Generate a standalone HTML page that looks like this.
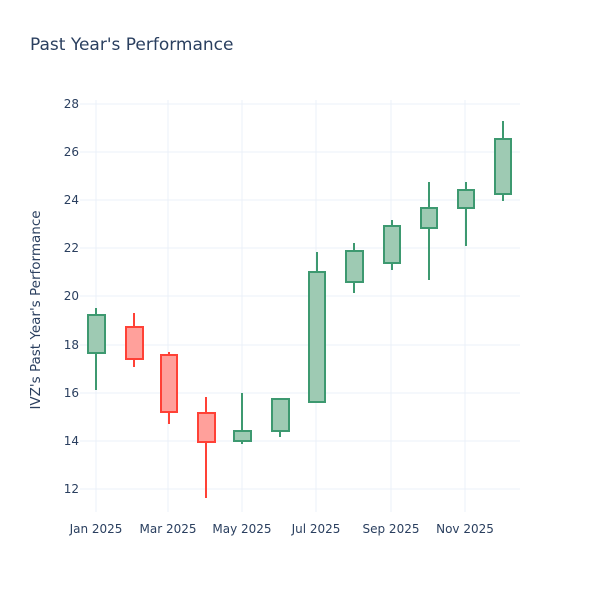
<!DOCTYPE html>
<html><head><meta charset="utf-8"><style>
body{margin:0;background:#fff;}
text{font-family:"DejaVu Sans","Liberation Sans",sans-serif;fill:#2a3f5f;}
</style></head><body>
<svg width="600" height="600" xmlns="http://www.w3.org/2000/svg">
<rect width="600" height="600" fill="#fff"/>
<g stroke="#ebf0f8" stroke-width="1">
<line x1="80" x2="520" y1="104" y2="104"/>
<line x1="80" x2="520" y1="152" y2="152"/>
<line x1="80" x2="520" y1="200" y2="200"/>
<line x1="80" x2="520" y1="248" y2="248"/>
<line x1="80" x2="520" y1="296" y2="296"/>
<line x1="80" x2="520" y1="345" y2="345"/>
<line x1="80" x2="520" y1="393" y2="393"/>
<line x1="80" x2="520" y1="441" y2="441"/>
<line x1="80" x2="520" y1="489" y2="489"/>
<line x1="96" x2="96" y1="100" y2="512"/>
<line x1="168" x2="168" y1="100" y2="512"/>
<line x1="242" x2="242" y1="100" y2="512"/>
<line x1="316" x2="316" y1="100" y2="512"/>
<line x1="391" x2="391" y1="100" y2="512"/>
<line x1="465" x2="465" y1="100" y2="512"/>
</g>
<g font-size="12" text-anchor="end">
<text x="79" y="108">28</text><text x="79" y="156">26</text><text x="79" y="204">24</text>
<text x="79" y="252">22</text><text x="79" y="300">20</text><text x="79" y="349">18</text>
<text x="79" y="397">16</text><text x="79" y="445">14</text><text x="79" y="493">12</text>
</g>
<g font-size="12" text-anchor="middle">
<text x="96" y="533">Jan 2025</text><text x="168" y="533">Mar 2025</text><text x="242" y="533">May 2025</text>
<text x="316" y="533">Jul 2025</text><text x="391" y="533">Sep 2025</text><text x="465" y="533">Nov 2025</text>
</g>
<text x="30" y="50" font-size="17">Past Year's Performance</text>
<text transform="translate(40,310) rotate(-90)" font-size="13.5" text-anchor="middle">IVZ's Past Year's Performance</text>
<g stroke-width="2">
<g stroke="#3d9970" fill="#9ecab3">
<line x1="96" x2="96" y1="308" y2="390"/><rect x="88" y="315" width="17" height="38"/>
<line x1="242" x2="242" y1="393" y2="444"/><rect x="234" y="431" width="17" height="10"/>
<line x1="280" x2="280" y1="399" y2="437"/><rect x="272" y="399" width="17" height="32"/>
<line x1="317" x2="317" y1="252" y2="402"/><rect x="309" y="272" width="16" height="130"/>
<line x1="354" x2="354" y1="243" y2="293"/><rect x="346" y="251" width="17" height="31"/>
<line x1="392" x2="392" y1="220" y2="270"/><rect x="384" y="226" width="16" height="37"/>
<line x1="429" x2="429" y1="182" y2="280"/><rect x="421" y="208" width="16" height="20"/>
<line x1="466" x2="466" y1="182" y2="246"/><rect x="458" y="190" width="16" height="18"/>
<line x1="503" x2="503" y1="121" y2="201"/><rect x="495" y="139" width="16" height="55"/>
</g>
<g stroke="#ff4136" fill="#ffa09b">
<line x1="134" x2="134" y1="313" y2="367"/><rect x="126" y="327" width="17" height="32"/>
<line x1="169" x2="169" y1="352" y2="424"/><rect x="161" y="355" width="16" height="57"/>
<line x1="206" x2="206" y1="397" y2="498"/><rect x="198" y="413" width="17" height="29"/>
</g>
</g>
</svg>
</body></html>
